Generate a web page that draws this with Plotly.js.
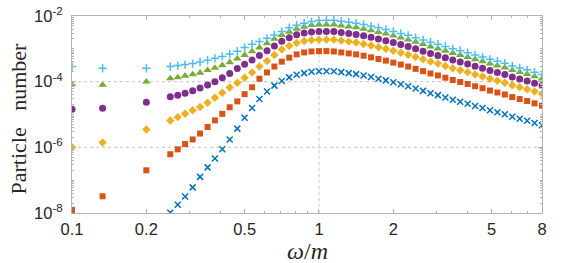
<!DOCTYPE html>
<html>
<head>
<meta charset="utf-8">
<script src="https://cdn.plot.ly/plotly-3.0.1.min.js"></script>
<style>html,body{margin:0;padding:0;background:#fff;}#chart{width:586px;height:263px;}</style>
</head>
<body>
<div id="chart"></div>
<script>
// omega/m values
var omegaLow = [0.1, 0.133, 0.2];
var omegaMain = [0.25,0.268,0.287,0.308,0.33,0.354,0.379,0.406,0.435,0.467,0.5,0.536,0.574,0.616,0.66,0.707,0.758,0.812,0.871,0.933,1,1.072,1.149,1.231,1.32,1.414,1.516,1.625,1.741,1.866,2,2.144,2.297,2.462,2.639,2.828,3.031,3.249,3.482,3.732,4,4.287,4.595,4.925,5.278,5.657,6.063,6.498,6.964,7.464,8];

// log10(particle number)
var logCross = [-7.99,-7.75,-7.50,-7.22,-6.90,-6.61,-6.34,-6.06,-5.76,-5.43,-5.10,-4.80,-4.53,-4.30,-4.12,-3.98,-3.87,-3.79,-3.74,-3.70,
  -3.68,-3.68,-3.68,-3.71,-3.74,-3.77,-3.81,-3.86,-3.91,-3.96,-4.02,-4.08,-4.14,-4.21,-4.28,-4.35,-4.41,-4.48,-4.55,-4.61,-4.67,-4.74,-4.80,-4.87,-4.93,-4.99,-5.07,-5.13,-5.19,-5.26,-5.33];
var logSquare = [-7.91,-7.49,-6.70,
  -6.21,-6.06,-5.90,-5.76,-5.58,-5.38,-5.18,-4.98,-4.78,-4.60,-4.38,-4.17,-3.91,-3.72,-3.54,-3.39,-3.27,-3.17,-3.11,-3.08,
  -3.07,-3.07,-3.08,-3.11,-3.14,-3.17,-3.21,-3.26,-3.31,-3.36,-3.42,-3.48,-3.54,-3.61,-3.68,-3.75,-3.81,-3.88,-3.95,-4.01,-4.07,-4.14,-4.20,-4.27,-4.33,-4.39,-4.47,-4.53,-4.59,-4.66,-4.73];
var logDiamond = [-6.00,-5.85,-5.46,
  -5.18,-5.08,-4.98,-4.87,-4.77,-4.64,-4.49,-4.34,-4.18,-4.03,-3.88,-3.72,-3.54,-3.37,-3.19,-3.02,-2.91,-2.82,-2.76,-2.73,
  -2.72,-2.72,-2.72,-2.75,-2.78,-2.81,-2.85,-2.90,-2.95,-3.00,-3.06,-3.12,-3.18,-3.25,-3.32,-3.39,-3.45,-3.52,-3.59,-3.65,-3.71,-3.78,-3.84,-3.91,-3.97,-4.03,-4.11,-4.17,-4.23,-4.30,-4.37];
var logCircle = [-4.84,-4.81,-4.63,
  -4.46,-4.41,-4.35,-4.28,-4.19,-4.10,-4.00,-3.88,-3.75,-3.60,-3.47,-3.34,-3.20,-3.06,-2.91,-2.77,-2.66,-2.57,-2.52,-2.49,
  -2.47,-2.47,-2.47,-2.50,-2.53,-2.56,-2.60,-2.65,-2.70,-2.75,-2.81,-2.87,-2.93,-3.00,-3.07,-3.14,-3.20,-3.27,-3.34,-3.40,-3.46,-3.53,-3.59,-3.66,-3.72,-3.78,-3.86,-3.92,-3.98,-4.05,-4.12];
var logTriangle = [-4.08,-4.10,-4.00,
  -3.90,-3.87,-3.82,-3.78,-3.73,-3.65,-3.58,-3.50,-3.41,-3.30,-3.19,-3.08,-2.96,-2.83,-2.70,-2.58,-2.48,-2.39,-2.33,-2.28,
  -2.26,-2.26,-2.26,-2.29,-2.32,-2.35,-2.39,-2.44,-2.49,-2.54,-2.60,-2.66,-2.72,-2.79,-2.86,-2.93,-2.99,-3.06,-3.13,-3.19,-3.25,-3.32,-3.38,-3.45,-3.51,-3.57,-3.65,-3.71,-3.77,-3.84,-3.91];
var logPlus = [-3.54,-3.59,-3.59,
  -3.54,-3.51,-3.48,-3.45,-3.40,-3.35,-3.29,-3.23,-3.16,-3.07,-2.96,-2.86,-2.78,-2.68,-2.58,-2.47,-2.36,-2.28,-2.22,-2.17,
  -2.14,-2.13,-2.13,-2.16,-2.19,-2.22,-2.26,-2.31,-2.36,-2.41,-2.47,-2.53,-2.59,-2.66,-2.73,-2.80,-2.86,-2.93,-3.00,-3.06,-3.12,-3.19,-3.25,-3.32,-3.38,-3.44,-3.52,-3.58,-3.64,-3.71,-3.78];

var xTickVals = [0.1, 0.2, 0.5, 1, 2, 5, 8];
var xTickText = ['0.1', '0.2', '0.5', '1', '2', '5', '8'];
var yTickVals = [1e-8, 1e-6, 1e-4, 1e-2];
var yTickText = ['10<sup>-8</sup>', '10<sup>-6</sup>', '10<sup>-4</sup>', '10<sup>-2</sup>'];
var xTitle = '<i>ω</i>/<i>m</i>';
var yTitle = 'Particle\u00a0\u00a0\u00a0number';

function pw(arr) { return arr.map(function (v) { return Math.pow(10, v); }); }
var omegaAll = omegaLow.concat(omegaMain);

var xMinor = [0.3,0.4,0.6,0.7,0.8,0.9,3,4,6,7];
var yMinor = [];
for (var e = -8; e < -2; e++) {
  for (var m = 2; m <= 9; m++) yMinor.push(m * Math.pow(10, e));
  if (e % 2 !== 0) yMinor.push(Math.pow(10, e));
}

function tr(x, y, sym, color, size, thin) {
  var mk = {symbol: sym, size: size, color: color};
  if (thin) mk.line = {color: color, width: 1.5};
  else mk.line = {width: 0};
  return {x: x, y: pw(y), type: 'scatter', mode: 'markers', marker: mk, showlegend: false, hoverinfo: 'skip'};
}

var data = [
  tr(omegaMain, logCross, 'x-thin', '#0072BD', 6, true),
  tr(omegaAll, logSquare, 'square', '#D95319', 6, false),
  tr(omegaAll, logDiamond, 'diamond', '#EDB120', 6.5, false),
  tr(omegaAll, logCircle, 'circle', '#7E2F8E', 7, false),
  tr(omegaAll, logTriangle, 'triangle-up', '#77AC30', 7.5, false),
  tr(omegaAll, logPlus, 'cross-thin', '#4DBEEE', 6, true)
];

var axCol = '#b3b3b3';
var tickFont = {family: 'Liberation Sans, Arial, sans-serif', size: 16.5, color: '#262626'};
var serif = 'Liberation Serif, Times New Roman, serif';
var gridLine = {color: '#c4c4c4', width: 1, dash: '3px,3px'};

var layout = {
  width: 586, height: 263,
  margin: {l: 72, r: 44, t: 16, b: 50},
  paper_bgcolor: '#ffffff', plot_bgcolor: '#ffffff',
  font: {family: 'Liberation Sans, Arial, sans-serif', color: '#262626'},
  xaxis: {
    type: 'log', range: [-1, Math.log10(8)],
    tickmode: 'array', tickvals: xTickVals, ticktext: xTickText,
    ticks: 'inside', ticklen: 4, tickwidth: 1, tickcolor: axCol,
    showline: true, linecolor: axCol, linewidth: 1, mirror: 'ticks',
    showgrid: false, zeroline: false, automargin: false,
    tickfont: tickFont, ticklabelstandoff: 1,
    minor: {tickmode: 'array', tickvals: xMinor, ticks: 'inside', ticklen: 2, tickcolor: axCol, showgrid: false}
  },
  yaxis: {
    type: 'log', range: [-8, -2],
    tickmode: 'array', tickvals: yTickVals, ticktext: yTickText,
    ticks: 'inside', ticklen: 4, tickwidth: 1, tickcolor: axCol,
    showline: true, linecolor: axCol, linewidth: 1, mirror: 'ticks',
    showgrid: false, zeroline: false, automargin: false,
    tickfont: tickFont, ticklabelstandoff: 5,
    minor: {tickmode: 'array', tickvals: yMinor, ticks: 'inside', ticklen: 2, tickcolor: axCol, showgrid: false}
  },
  annotations: [
    {text: xTitle, xref: 'paper', yref: 'paper', x: 0.5, y: 0, xanchor: 'center', yanchor: 'middle', yshift: -38,
     showarrow: false, font: {family: serif, size: 24, color: '#262626'}},
    {text: yTitle, xref: 'paper', yref: 'paper', x: 0, y: 0.5, xanchor: 'center', yanchor: 'middle', xshift: -54, yshift: -4,
     textangle: -90, showarrow: false, font: {family: serif, size: 22, color: '#262626'}}
  ],
  shapes: [
    {type: 'line', layer: 'below', xref: 'x', yref: 'paper', x0: 1, x1: 1, y0: 0, y1: 1, line: gridLine},
    {type: 'line', layer: 'below', xref: 'paper', yref: 'y', x0: 0, x1: 1, y0: 1e-4, y1: 1e-4, line: gridLine},
    {type: 'line', layer: 'below', xref: 'paper', yref: 'y', x0: 0, x1: 1, y0: 1e-6, y1: 1e-6, line: gridLine}
  ]
};

Plotly.newPlot('chart', data, layout, {staticPlot: true, displayModeBar: false});
</script>
</body>
</html>
